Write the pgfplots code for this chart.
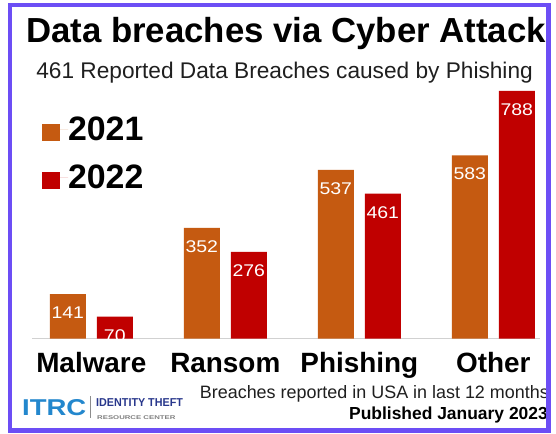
\documentclass[border=0pt]{standalone}
\usepackage{pgfplots}
\pgfplotsset{compat=1.18}
\usepackage{fontspec}
\setmainfont{Liberation Sans}
\definecolor{c2021}{RGB}{197,90,17}
\definecolor{c2022}{RGB}{192,0,0}
\definecolor{framecol}{RGB}{108,78,245}
\definecolor{logoblue}{RGB}{35,135,205}
\definecolor{navy}{RGB}{40,55,140}
\begin{document}
\begin{tikzpicture}
\useasboundingbox (0bp,0bp) rectangle (556bp,-434bp);
\fill[white] (0bp,0bp) rectangle (556bp,-434bp);
\begin{axis}[
  at={(32bp,-338.5bp)}, anchor=south west,
  scale only axis, width=508bp, height=258.5bp,
  xmin=-0.4425, xmax=3.3485, ymin=0, ymax=823,
  ybar, bar width=36bp,
  axis x line=bottom, axis y line=none,
  x axis line style={-, draw=black!18, line width=1.2pt},
  xtick={0,1,2,3}, xticklabels={Malware,Ransom,Phishing,Other},
  major tick length=0pt,
  xticklabel style={font=\bfseries\fontsize{28}{30}\selectfont, anchor=base, yshift=-34bp, inner sep=0pt},
  nodes near coords={\scalebox{1.15}[1]{\pgfmathprintnumber[assume math mode=true]{\pgfplotspointmeta}}},
  every node near coord/.append style={anchor=north, inner sep=0pt, yshift=-12.5bp, text=white, font=\fontsize{17}{20}\selectfont},
  legend style={at={(0.0197,0.857)}, anchor=north west, draw=none, fill=none, inner sep=0pt, outer sep=0pt,
    font=\bfseries\fontsize{34}{40}\selectfont, row sep=23.2bp, nodes={inner sep=0pt}},
  legend cell align=left,
  legend image code/.code={\fill[#1] (0bp,-11bp) rectangle (18bp,6bp); \path (18bp,0bp) -- (26bp,0bp);},
]
\addplot[fill=c2021, draw=none, bar shift=-23.5bp] coordinates {(0,141) (1,352) (2,537) (3,583)};
\addplot[fill=c2022, draw=none, bar shift=23.5bp] coordinates {(0,70) (1,276) (2,461) (3,788)};
\legend{2021,2022}
\end{axis}
\node[anchor=base, inner sep=0pt] at (286bp,-42bp) {\fontsize{34.9}{40}\selectfont\bfseries Data breaches via Cyber Attack};
\node[anchor=base, inner sep=0pt, text=black!88] at (284.6bp,-78.5bp) {\fontsize{22.75}{27}\selectfont 461 Reported Data Breaches caused by Phishing};
\node[anchor=base west, inner sep=0pt, text=logoblue] at (22bp,-415.5bp) {\scalebox{1.2}[1]{\bfseries\fontsize{23}{24}\selectfont ITRC}};
\draw[black!45, line width=1bp] (90bp,-396bp) -- (90bp,-418bp);
\node[anchor=base west, inner sep=0pt, text=navy] at (96bp,-406.2bp) {\scalebox{0.94}[1]{\bfseries\fontsize{11.5}{12}\selectfont IDENTITY THEFT}};
\node[anchor=base west, inner sep=0pt, text=black!50] at (97bp,-419bp) {\scalebox{1.42}[1]{\bfseries\fontsize{5.5}{6}\selectfont RESOURCE CENTER}};
\node[anchor=base east, inner sep=0pt, text=black!88] at (549bp,-398bp) {\fontsize{18}{20}\selectfont Breaches reported in USA in last 12 months};
\node[anchor=base east, inner sep=0pt] at (548bp,-419bp) {\fontsize{17.5}{20}\selectfont\bfseries Published January 2023};
\draw[framecol, line width=4.5bp] (10bp,-5bp) rectangle (548.5bp,-430.5bp);
\end{tikzpicture}
\end{document}
